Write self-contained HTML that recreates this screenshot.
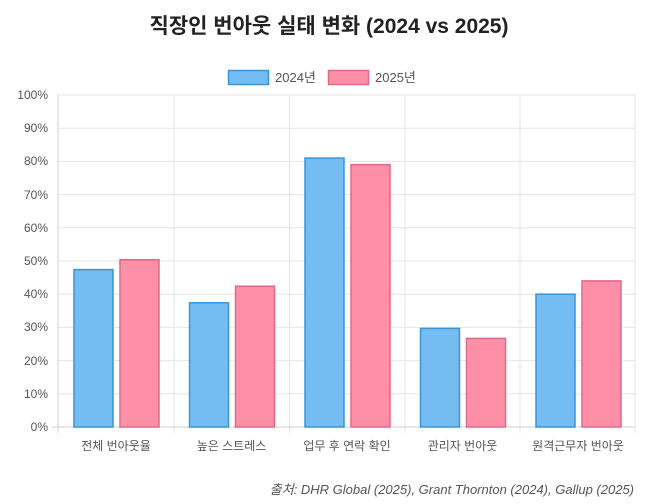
<!DOCTYPE html>
<html><head><meta charset="utf-8"><style>
body{margin:0;background:#fff;width:658px;height:499px;overflow:hidden}
svg text{font-family:"Liberation Sans","Noto Sans CJK KR",sans-serif}
</style></head><body>
<svg width="658" height="499" xmlns="http://www.w3.org/2000/svg">
<text x="329" y="33" text-anchor="middle" font-size="21" font-weight="bold" fill="#222">직장인 번아웃 실태 변화 (2024 vs 2025)</text>
<rect x="228.5" y="70.5" width="40" height="14" fill="#74bcf2" stroke="#3a94d8" stroke-width="1.5"/>
<text x="275" y="82" font-size="13" fill="#555">2024년</text>
<rect x="328.5" y="70.5" width="40" height="14" fill="#ff8fa6" stroke="#e0688a" stroke-width="1.5"/>
<text x="375" y="82" font-size="13" fill="#555">2025년</text>
<g stroke="#e6e6e6" stroke-width="1">
<line x1="58" y1="95" x2="635" y2="95"/><line x1="58" y1="128.2" x2="635" y2="128.2"/>
<line x1="58" y1="161.4" x2="635" y2="161.4"/><line x1="58" y1="194.6" x2="635" y2="194.6"/>
<line x1="58" y1="227.8" x2="635" y2="227.8"/><line x1="58" y1="261" x2="635" y2="261"/>
<line x1="58" y1="294.2" x2="635" y2="294.2"/><line x1="58" y1="327.4" x2="635" y2="327.4"/>
<line x1="58" y1="360.6" x2="635" y2="360.6"/><line x1="58" y1="393.8" x2="635" y2="393.8"/>
<line x1="174" y1="95" x2="174" y2="433"/><line x1="289.5" y1="95" x2="289.5" y2="433"/>
<line x1="405" y1="95" x2="405" y2="433"/><line x1="520" y1="95" x2="520" y2="433"/>
<line x1="635" y1="95" x2="635" y2="433"/>
</g>
<line x1="58" y1="95" x2="58" y2="433" stroke="#d0d0d0"/>
<line x1="52" y1="427" x2="635" y2="427" stroke="#d0d0d0"/>
<g font-size="12" fill="#555" text-anchor="end">
<text x="48" y="99">100%</text><text x="48" y="132">90%</text><text x="48" y="165">80%</text>
<text x="48" y="199">70%</text><text x="48" y="232">60%</text><text x="48" y="265">50%</text>
<text x="48" y="298">40%</text><text x="48" y="331">30%</text><text x="48" y="365">20%</text>
<text x="48" y="398">10%</text><text x="48" y="431">0%</text>
</g>
<g fill="#74bcf2" stroke="#3a94d8" stroke-width="1.5">
<rect x="74" y="269.6" width="39" height="157.4"/>
<rect x="189.5" y="302.8" width="39" height="124.2"/>
<rect x="305" y="158.1" width="39" height="268.9"/>
<rect x="420.5" y="328.4" width="39" height="98.6"/>
<rect x="536" y="294.2" width="39" height="132.8"/>
</g>
<g fill="#ff8fa6" stroke="#e0688a" stroke-width="1.5">
<rect x="120" y="259.7" width="39" height="167.3"/>
<rect x="235.5" y="286.2" width="39" height="140.8"/>
<rect x="351" y="164.7" width="39" height="262.3"/>
<rect x="466.5" y="338.4" width="39" height="88.6"/>
<rect x="582" y="280.9" width="39" height="146.1"/>
</g>
<g font-size="12" fill="#555" text-anchor="middle">
<text x="116" y="450">전체 번아웃율</text><text x="231.5" y="450">높은 스트레스</text>
<text x="347" y="450">업무 후 연락 확인</text><text x="462.5" y="450">관리자 번아웃</text>
<text x="578" y="450">원격근무자 번아웃</text>
</g>
<text x="634" y="494" text-anchor="end" font-size="13" font-style="italic" fill="#555">출처: DHR Global (2025), Grant Thornton (2024), Gallup (2025)</text>
</svg>
</body></html>
